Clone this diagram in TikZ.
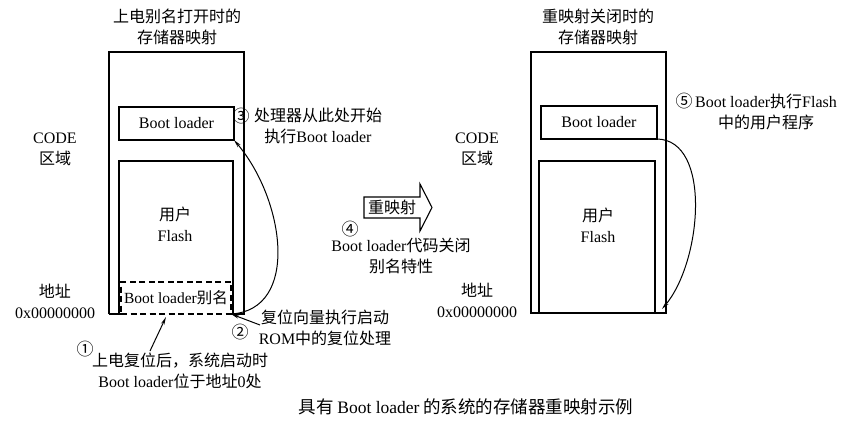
\documentclass[tikz,border=0pt]{standalone}
\usepackage{fontspec}
\setmainfont{Liberation Serif}
\newfontfamily\cjk{Noto Sans CJK SC}
\usetikzlibrary{arrows.meta}
\newcommand{\zh}[1]{{\cjk #1}}
\begin{document}
\begin{tikzpicture}[x=1pt,y=-1pt,
  every node/.style={font=\fontsize{16}{21}\selectfont, inner sep=0pt, outer sep=0pt},
  lbl/.style={align=center},
  blbox/.style={draw, line width=1.1pt, anchor=north west},
  wire/.style={line width=1.1pt},
  tip/.style={line width=1pt, -{Stealth[length=8pt,width=3.5pt]}},
  num/.style={font=\cjk\fontsize{17}{18}\selectfont}
]
\useasboundingbox (0,0) rectangle (845,433);

% ---------- left memory map ----------
\node[anchor=north west, minimum width=135, minimum height=262] (outerL) at (109,52) {};
\node[anchor=north west, minimum width=114, minimum height=153] (flashL) at (119,161) {};
\node[blbox, minimum width=115, minimum height=33] (blL) at (119,107) {Boot loader};
\node[draw, dash pattern=on 6pt off 3.5pt, line width=1.1pt, anchor=north west, minimum width=110, minimum height=32] (aliasL) at (121,282) {};
\node[font=\fontsize{15.5}{16}\selectfont] (aliasLtxt) at (aliasL.center) {Boot loader\zh{别名}};
\draw[wire] (outerL.south west) -- (outerL.north west) -- (outerL.north east) -- (outerL.south east) -- (aliasL.south east);
\draw[wire] (outerL.south west) -- (aliasL.south west);
\draw[wire] (flashL.south west) -- (flashL.north west) -- (flashL.north east) -- (flashL.south east);
\node[lbl] (flashLtxt) at (175,224) {\zh{用户}\\Flash};

\node[lbl] (titleL) at (177,27) {\zh{上电别名打开时的}\\\zh{存储器映射}};
\node[lbl] (codeL) at (55,149) {CODE\\\zh{区域}};
\node[lbl] (addrL) at (55,301) {\zh{地址}\\0x00000000};

% step 3
\node[num] (n3) at (241,116) {③};
\node[lbl] (t3) at (318,126) {\zh{处理器从此处开始}\\\zh{执行}Boot loader};
\draw[tip] (aliasL.south east) .. controls (300,310) and (285,200) .. (blL.south east);

% step 2
\node[num] (n2) at (240,332) {②};
\node[lbl] (t2) at (325,328) {\zh{复位向量执行启动}\\ROM\zh{中的复位处理}};
\coordinate (t2a) at (260,325);
\draw[tip] (t2a) -- (aliasL.south east);

% step 1
\node[num] (n1) at (85,349) {①};
\node[lbl] (t1) at (180,371) {\zh{上电复位后，系统启动时}\\Boot loader\zh{位于地址}0\zh{处}};
\coordinate (t1a) at (150,351);
\coordinate (t1b) at (166,317);
\draw[tip] (t1a) -- (t1b);

% ---------- remap arrow ----------
\node (remap) at (392,207.5) {\zh{重映射}};
\draw[wire] (364,197) -- (420,197) -- (420,184) -- (432,207.5) -- (420,231) -- (420,218) -- (364,218) -- cycle;
\node[num] (n4) at (350,229) {④};
\node[lbl] (t4) at (401,256) {Boot loader\zh{代码关闭}\\\zh{别名特性}};

% ---------- right memory map ----------
\node[draw, line width=1.1pt, anchor=north west, minimum width=135, minimum height=261] (outerR) at (531,52) {};
\node[blbox, minimum width=116, minimum height=33] (blR) at (541,106) {Boot loader};
\node[draw, line width=1.1pt, anchor=north west, minimum width=116, minimum height=152] (flashR) at (539,161) {};
\node[lbl] (flashRtxt) at (598,225) {\zh{用户}\\Flash};
\node[lbl] (titleR) at (598,27) {\zh{重映射关闭时的}\\\zh{存储器映射}};
\node[lbl] (codeR) at (477,149) {CODE\\\zh{区域}};
\node[lbl] (addrR) at (477,300) {\zh{地址}\\0x00000000};

% step 5
\node[num] (n5) at (684,101) {⑤};
\node[lbl] (t5) at (766,112) {Boot loader\zh{执行}Flash\\\zh{中的用户程序}};
\coordinate (endR) at (662,309);
\draw[tip] (blR.south east) .. controls (712,140) and (702,262) .. (endR);

% caption
\node[font=\cjk\fontsize{17.5}{20}\selectfont] (caption) at (466,407) {具有 {\rmfamily Boot loader} 的系统的存储器重映射示例};
\end{tikzpicture}
\end{document}
